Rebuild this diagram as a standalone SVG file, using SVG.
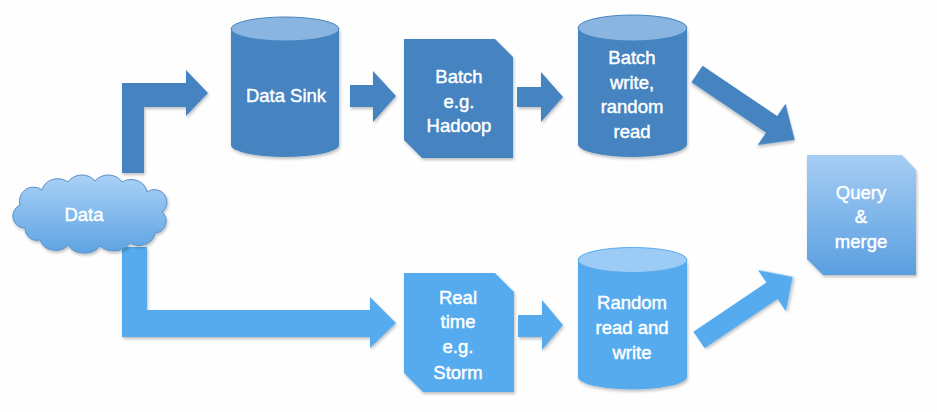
<svg xmlns="http://www.w3.org/2000/svg" width="937" height="412" viewBox="0 0 937 412">
<defs>
<linearGradient id="cloudG" x1="0" y1="0" x2="0" y2="1"><stop offset="0" stop-color="#a9d1f6"/><stop offset="1" stop-color="#5ea3e2"/></linearGradient>
<linearGradient id="qG" x1="0" y1="0" x2="0" y2="1"><stop offset="0" stop-color="#a6cdf4"/><stop offset="1" stop-color="#5a9fe0"/></linearGradient>
<filter id="sh" x="-10%" y="-10%" width="130%" height="130%"><feDropShadow dx="1" dy="2" stdDeviation="1.5" flood-color="#000" flood-opacity="0.25"/></filter>
<style>
.dk{fill:#4584c1;}
.dkTop{fill:#8ab5e0;stroke:#4584c1;stroke-width:1;}
.lt{fill:#56abef;}
.ltTop{fill:#9ccbf6;stroke:#56abef;stroke-width:1;}
.t{font-family:"Liberation Sans",Arial,sans-serif;font-size:18.5px;fill:#fff;stroke:#fff;stroke-width:0.45px;text-anchor:middle;}
.shp{filter:url(#sh);}
</style>
</defs>
<rect width="937" height="412" fill="#fefefe"/>
<g id="connectors">
<path class="dk shp" d="M122,173 L122,83 L186,83 L186,70 L208,93 L186,116 L186,107 L144,107 L144,173 Z"/>
<path class="dk shp" d="M350,85 L373,85 L373,71 L396,96 L373,122 L373,107 L350,107 Z"/>
<path class="dk shp" d="M517,87 L541,87 L541,72 L563,97 L541,122 L541,107 L517,107 Z"/>
<path class="dk shp" d="M0,-10 L90,-10 L90,-25 L118,0 L90,25 L90,10 L0,10 Z" transform="translate(697,74) rotate(34)"/>
<path class="lt shp" d="M122,247 L147,247 L147,310 L370,310 L370,297 L396,323 L370,348 L370,337 L122,337 Z"/>
<path class="lt shp" d="M518,315 L542,315 L542,300 L563,325 L542,350 L542,337 L518,337 Z"/>
<path class="lt shp" d="M0,-10 L88,-10 L88,-25 L113,0 L88,25 L88,10 L0,10 Z" transform="translate(699,340) rotate(-34)"/>
</g>
<g id="data">
<path class="shp" fill="url(#cloudG)" stroke="#5b8fcb" stroke-width="1" d="M25,228 A12,12 0 0 1 20,205 A14,14 0 0 1 42,190 A16,14 0 0 1 68,182 A16,14 0 0 1 95,181 A16,14 0 0 1 122,182 A16,14 0 0 1 147,192 A12,12 0 0 1 162,212 A12,12 0 0 1 155,233 A16,14 0 0 1 130,243 A18,14 0 0 1 100,246 A18,14 0 0 1 68,245 A16,14 0 0 1 40,240 A12,12 0 0 1 25,228 Z"/>
<text class="t" x="84" y="221">Data</text>
</g>
<g id="datasink">
<path class="dk shp" d="M231,29 L231,145 A54,12 0 0 0 339,145 L339,29 Z"/>
<ellipse class="dkTop" cx="285" cy="29" rx="54" ry="12"/>
<text class="t" x="286" y="102">Data Sink</text>
</g>
<g id="batch">
<path class="dk shp" d="M404,39 L495,39 L513,57 L513,158 L422,158 L404,140 Z"/>
<text class="t" x="459" y="83">Batch</text>
<text class="t" x="459" y="108">e.g.</text>
<text class="t" x="459" y="132">Hadoop</text>
</g>
<g id="batchwrite">
<path class="dk shp" d="M578,28 L578,144 A54.5,13 0 0 0 687,144 L687,28 Z"/>
<ellipse class="dkTop" cx="632.5" cy="28" rx="54.5" ry="13"/>
<text class="t" x="632" y="64">Batch</text>
<text class="t" x="632" y="89">write,</text>
<text class="t" x="632" y="113">random</text>
<text class="t" x="632" y="138">read</text>
</g>
<g id="query">
<path class="shp" fill="url(#qG)" d="M807,155 L902,155 L916,170 L916,275 L823,275 L807,259 Z"/>
<text class="t" x="861" y="199">Query</text>
<text class="t" x="861" y="223">&amp;</text>
<text class="t" x="861" y="248">merge</text>
</g>
<g id="realtime">
<path class="lt shp" d="M404,273 L495,273 L514,292 L514,392 L423,392 L404,373 Z"/>
<text class="t" x="458" y="304">Real</text>
<text class="t" x="458" y="328">time</text>
<text class="t" x="458" y="353">e.g.</text>
<text class="t" x="458" y="379">Storm</text>
</g>
<g id="random">
<path class="lt shp" d="M578,260 L578,377 A54.5,12.5 0 0 0 687,377 L687,260 Z"/>
<ellipse class="ltTop" cx="632.5" cy="260" rx="54.5" ry="12.5"/>
<text class="t" x="632" y="309">Random</text>
<text class="t" x="632" y="334">read and</text>
<text class="t" x="632" y="359">write</text>
</g>
</svg>
